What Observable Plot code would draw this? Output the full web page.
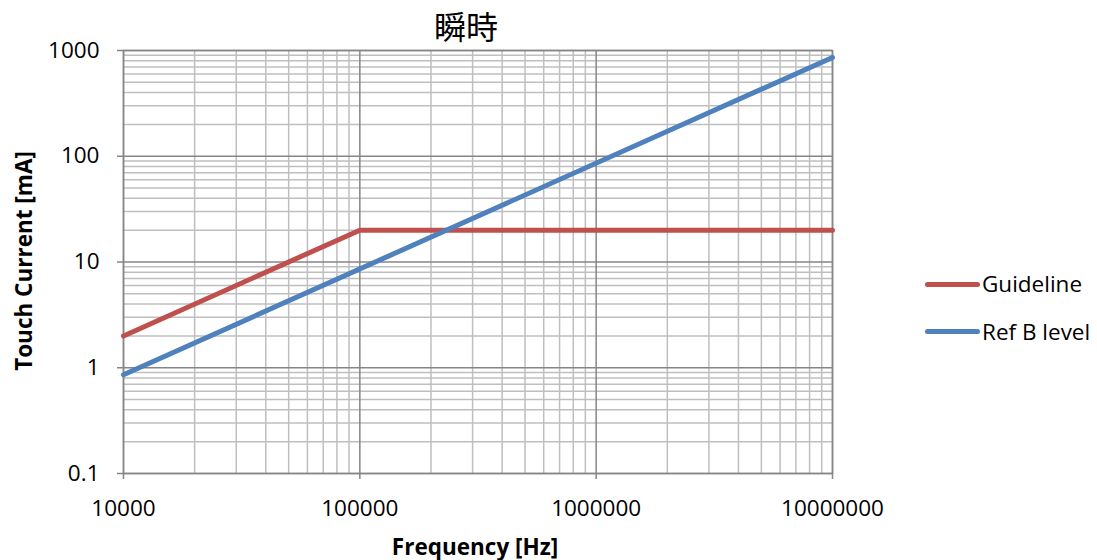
<!DOCTYPE html>
<html>
<head>
<meta charset="utf-8">
<script src="https://cdn.jsdelivr.net/npm/d3@7"></script>
<script src="https://cdn.jsdelivr.net/npm/@observablehq/plot@0.6"></script>
<style>
  html, body { margin: 0; padding: 0; background: #fff; }
  #wrap { position: relative; width: 1097px; height: 560px; font-family: "Open Sans", sans-serif; }
  #wrap svg text { font-size: 22.5px; font-family: "Open Sans", sans-serif; fill: #000; }
  .ov { position: absolute; color: #000; white-space: nowrap; }
</style>
</head>
<body>
<div id="wrap"></div>
<script>
// Data
const guidelineFreq = [10000, 100000, 10000000];
const guidelineMA   = [2, 20, 20];
const refBFreq = [10000, 10000000];
const refBMA   = [0.86, 860];
const xTicks = [10000, 100000, 1000000, 10000000];
const yTicks = [0.1, 1, 10, 100, 1000];
const seriesNames = ["Guideline", "Ref B level"];
const seriesColors = ["#C0504D", "#4F81BD"];

const guideline = guidelineFreq.map((f, i) => ({f, v: guidelineMA[i]}));
const refB = refBFreq.map((f, i) => ({f, v: refBMA[i]}));

// minor gridline positions (2..9 within each decade)
const minor = (lo, hi) => {
  const out = [];
  for (let d = lo; d < hi; d *= 10) for (let k = 2; k <= 9; k++) out.push(d * k);
  return out;
};
const xMinor = minor(10000, 10000000);
const yMinor = minor(0.1, 1000);

const W = 1097, H = 560;
const chart = Plot.plot({
  width: W, height: H,
  marginLeft: 123, marginRight: W - 832, marginTop: 50, marginBottom: H - 473,
  style: {fontFamily: "'Open Sans', sans-serif", fontSize: "22.5px", color: "#000", background: "#fff"},
  x: {type: "log", domain: [10000, 10000000]},
  y: {type: "log", domain: [0.1, 1000]},
  marks: [
    Plot.ruleX(xMinor, {stroke: "#bfbfbf", strokeWidth: 1.5}),
    Plot.ruleY(yMinor, {stroke: "#bfbfbf", strokeWidth: 1.5}),
    Plot.ruleX(xTicks, {stroke: "#868686", strokeWidth: 1.5}),
    Plot.ruleY(yTicks, {stroke: "#868686", strokeWidth: 1.5}),
    Plot.frame({stroke: "#868686", strokeWidth: 1.5}),
    Plot.axisX({ticks: xTicks, tickFormat: d => String(d), tickSize: 6, tickPadding: 21, label: null, stroke: "#868686", strokeWidth: 1.5}),
    Plot.axisY({ticks: yTicks, tickFormat: d => String(d), tickSize: 6, tickPadding: 18, label: null, stroke: "#868686", strokeWidth: 1.5}),
    Plot.line(guideline, {x: "f", y: "v", stroke: seriesColors[0], strokeWidth: 5}),
    Plot.line(refB, {x: "f", y: "v", stroke: seriesColors[1], strokeWidth: 5})
  ]
});
const wrap = document.getElementById("wrap");
wrap.appendChild(chart);
chart.style.position = "absolute";
chart.style.left = "0px";
chart.style.top = "0px";

function ov(text, css) {
  const d = document.createElement("div");
  d.className = "ov";
  d.textContent = text;
  Object.assign(d.style, css);
  wrap.appendChild(d);
  return d;
}
ov("瞬時", {left: "366px", width: "200px", textAlign: "center", top: "3px", fontSize: "32px", lineHeight: "44px", fontFamily: "'Noto Sans CJK JP', sans-serif"});
ov("Frequency [Hz]", {left: "375px", width: "200px", textAlign: "center", top: "531px", fontSize: "22.5px", lineHeight: "32px", fontWeight: "bold"});
ov("Touch Current [mA]", {left: "-126px", width: "300px", textAlign: "center", top: "245px", fontSize: "22.5px", lineHeight: "32px", fontWeight: "bold", transform: "rotate(-90deg)"});

seriesNames.forEach((name, i) => {
  const y = 284 + i * 47.5;
  const ln = document.createElement("div");
  Object.assign(ln.style, {position: "absolute", left: "925px", top: (y - 2.5) + "px", width: "55px", height: "5px", borderRadius: "2.5px", background: seriesColors[i]});
  wrap.appendChild(ln);
  ov(name, {left: "982px", top: (y - 16) + "px", fontSize: "22.5px", lineHeight: "32px"});
});
</script>
</body>
</html>
